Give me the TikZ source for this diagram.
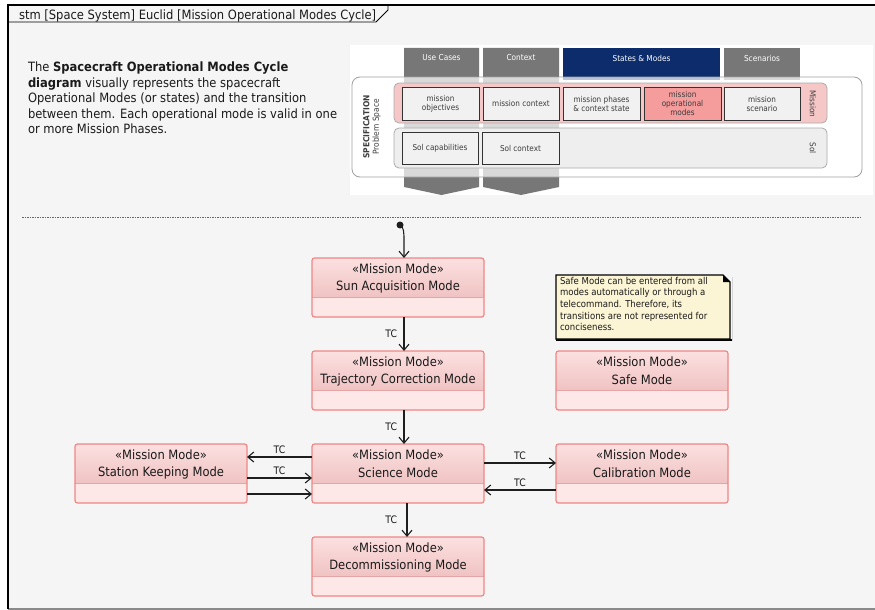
\documentclass[tikz,border=0pt]{standalone}
\usepackage{fontspec}
\setmainfont{DejaVu Sans}[FakeStretch=0.9]
\usetikzlibrary{arrows.meta,calc}

\definecolor{framebg}{HTML}{F5F5F5}
\definecolor{framegrey}{HTML}{8A8A8A}
\definecolor{txt}{HTML}{1A1A1A}
\definecolor{edge}{HTML}{1E1E1E}
\definecolor{mline}{HTML}{F08585}
\definecolor{mdiv}{HTML}{E3A5A5}
\definecolor{mbody}{HTML}{FDE7E7}
\definecolor{mhtop}{HTML}{FCE0E0}
\definecolor{mhbot}{HTML}{F0C3C3}
\definecolor{notefill}{HTML}{FCF5D5}
\definecolor{colgrey}{HTML}{777777}
\definecolor{navy}{HTML}{0C2C6C}
\definecolor{rowpink}{HTML}{F6C7C7}
\definecolor{rowgrey}{HTML}{EEEEEE}
\definecolor{cellfill}{HTML}{F1F1F1}
\definecolor{cellhot}{HTML}{F59C9C}
\definecolor{celltext}{HTML}{3C3C3C}

% a state of the mission: stereotype header plus an empty compartment
\newcommand\modebox[3]{%
  \node[modeshape, anchor=north west] (#1) at (#2) {};
  \begin{scope}
    \clip[rounded corners=2.5pt] (#1.north west) rectangle (#1.south east);
    \shade[top color=mhtop, bottom color=mhbot]
      (#1.north west) rectangle ([yshift=-39pt]#1.north east);
  \end{scope}
  \draw[mdiv, line width=0.8pt] ([yshift=-39pt]#1.north west) -- ([yshift=-39pt]#1.north east);
  \draw[mline, line width=1.2pt, rounded corners=2.5pt] (#1.north west) rectangle (#1.south east);
  \node[modetext] (#1-st) at ([yshift=-11pt]#1.north) {«Mission Mode»};
  \node[modetext] (#1-nm) at ([yshift=-29pt]#1.north) {#3};
}

\begin{document}
\begin{tikzpicture}[x=1pt, y=-1pt,
  every node/.style={inner sep=0pt, outer sep=0pt, text=txt},
  modeshape/.style={rectangle, rounded corners=2.5pt, minimum width=172pt,
    minimum height=59pt, fill=mbody},
  modetext/.style={font=\fontsize{12.8}{14}\selectfont},
  trans/.style={draw=edge, line width=1.1pt,
    -{Straight Barb[length=6pt,width=10pt,line width=1.1pt]}},
  tclabel/.style={font=\fontsize{10.3}{11}\selectfont},
  cell/.style={draw=black!80, line width=0.9pt, fill=cellfill, text=celltext,
    align=center, font=\fontsize{8.1}{9}\selectfont, minimum height=33pt},
  tablabel/.style={text=white, font=\fontsize{8.2}{9}\selectfont}]

\useasboundingbox (0,0) rectangle (875,610);

% diagram frame and its name tab
\fill[white] (0,0) rectangle (875,610);
\fill[framebg] (8,5) rectangle (880,609);
\draw[framegrey, line width=1.2pt] (8,609) -- (880,609);
\draw[black, line width=1.4pt] (8,609) -- (8,5) -- (880,5);
\draw[black, line width=0.9pt] (8,22) -- (376,22) -- (388,10) -- (388,5);
\node[anchor=west, font=\fontsize{12.8}{14}\selectfont] (title) at (19,15.5)
  {stm [Space System] Euclid [Mission Operational Modes Cycle]};

% description
\node[anchor=north west, align=left, font=\fontsize{12.8}{15.5}\selectfont] (desc) at (28,62)
  {The \textbf{Spacecraft Operational Modes Cycle}\\
   \textbf{diagram} visually represents the spacecraft\\
   Operational Modes (or states) and the transition\\
   between them. Each operational mode is valid in one\\
   or more Mission Phases.};

% specification matrix
\fill[white] (350,45) rectangle (873,195);
\fill[colgrey] (404,48) -- (479,48) -- (479,187) -- (441.5,195) -- (404,187) -- cycle;
\fill[colgrey] (483,48) -- (559,48) -- (559,187) -- (521,195) -- (483,187) -- cycle;
\fill[navy] (563,48) rectangle (720,80);
\fill[colgrey] (724,48) rectangle (800,80);
\node[tablabel] (tuc) at (441.5,58) {Use Cases};
\node[tablabel] (tct) at (521,58) {Context};
\node[tablabel] (tsm) at (641.5,58) {States \& Modes};
\node[tablabel] (tsc) at (762,58) {Scenarios};
\draw[gray!75, line width=0.8pt, fill=white, fill opacity=0.72, rounded corners=8pt]
  (352,77) rectangle (862,177);
\draw[gray!65, line width=0.8pt, fill=rowpink, rounded corners=5pt] (394,83) rectangle (827,123);
\draw[gray!65, line width=0.8pt, fill=rowgrey, rounded corners=5pt] (394,128) rectangle (827,168);
\node[cell, minimum width=77pt] (mobj) at (440.5,103.5) {mission\\objectives};
\node[cell, minimum width=76pt] (mctx) at (521,103.5) {mission context};
\node[cell, minimum width=77pt] (mpha) at (601.5,103.5) {mission phases\\\& context state};
\node[cell, minimum width=77pt, fill=cellhot] (mopm) at (682.5,103.5) {mission\\operational\\modes};
\node[cell, minimum width=76pt] (mscn) at (762,103.5) {mission\\scenario};
\node[cell, minimum width=76pt, minimum height=32pt] (scap) at (440,148) {Sol capabilities};
\node[cell, minimum width=77pt, minimum height=32pt] (sctx) at (520.5,148) {Sol context};
\node[rotate=-90, text=celltext, font=\fontsize{8.1}{9}\selectfont] (lmis) at (813,104) {Mission};
\node[rotate=-90, text=celltext, font=\fontsize{8.1}{9}\selectfont] (lsol) at (813,148) {Sol};
\node[rotate=90, text=celltext, font=\fontsize{8.3}{9.5}\selectfont, align=center] (lspec) at (372,127)
  {\textbf{SPECIFICATION}\\Problem Space};

% separator
\draw[black!60, line width=0.7pt, dash pattern=on 1.5pt off 1pt] (22,217) -- (862,217);

% states
\modebox{sun}{312,258}{Sun Acquisition Mode}
\modebox{traj}{312,351}{Trajectory Correction Mode}
\modebox{safe}{556,351}{Safe Mode}
\modebox{sci}{312,444}{Science Mode}
\modebox{stk}{75,444}{Station Keeping Mode}
\modebox{cal}{556,444}{Calibration Mode}
\modebox{dec}{312,537}{Decommissioning Mode}

% note about safe mode
\coordinate (nnw) at (556,275);
\coordinate (nse) at (730,339);
\fill[black] ([shift={(2pt,-2pt)}]nnw -| nse) -- ([shift={(2pt,-2pt)}]nse) -- ([shift={(2pt,-2pt)}]nse |- nnw) -- cycle;
\fill[black] ([xshift=2pt]nse) rectangle ([yshift=-2pt]nnw |- nse);
\draw[black, line width=1.1pt, fill=notefill]
  (nnw) -- ([xshift=-7pt]nse |- nnw) -- ([yshift=-7pt]nse |- nnw) -- (nse) -- (nnw |- nse) -- cycle;
\fill[black] ([xshift=-7pt]nse |- nnw) -- ([yshift=-7pt]nse |- nnw) -- ([xshift=-7pt,yshift=-7pt]nse |- nnw) -- cycle;
\node[anchor=north west, align=left, font=\fontsize{9.5}{11.6}\selectfont] (note) at (560,277)
  {Safe Mode can be entered from all\\
   modes automatically or through a\\
   telecommand. Therefore, its\\
   transitions are not represented for\\
   conciseness.};

% initial pseudo state
\node[circle, fill=edge, minimum size=7pt] (init) at (400,225) {};
\draw[trans] (init.center) .. controls ([xshift=4pt,yshift=-2pt]init.center)
  and ([xshift=4pt,yshift=-8pt]init.center) .. ([xshift=4pt,yshift=-16pt]init.center)
  -- ([xshift=6pt]sun.north);

% transitions
\draw[trans] ([xshift=6pt]sun.south) -- node[tclabel, left=7pt] (tc1) {TC} ([xshift=6pt]traj.north);
\draw[trans] ([xshift=6pt]traj.south) -- node[tclabel, left=7pt] (tc2) {TC} ([xshift=6pt]sci.north);
\draw[trans] ([xshift=9pt]sci.south) -- node[tclabel, left=10pt] (tc3) {TC} ([xshift=9pt]dec.north);
\draw[trans] ([yshift=-13pt]sci.north west) -- node[tclabel, above=3pt] (tc4) {TC} ([yshift=-13pt]stk.north east);
\draw[trans] ([yshift=-34pt]stk.north east) -- node[tclabel, above=3pt] (tc5) {TC} ([yshift=-34pt]sci.north west);
\draw[trans] ([yshift=-50pt]stk.north east) -- ([yshift=-50pt]sci.north west);
\draw[trans] ([yshift=-19pt]sci.north east) -- node[tclabel, above=3pt] (tc6) {TC} ([yshift=-19pt]cal.north west);
\draw[trans] ([yshift=-46pt]cal.north west) -- node[tclabel, above=3pt] (tc7) {TC} ([yshift=-46pt]sci.north east);

\end{tikzpicture}
\end{document}
